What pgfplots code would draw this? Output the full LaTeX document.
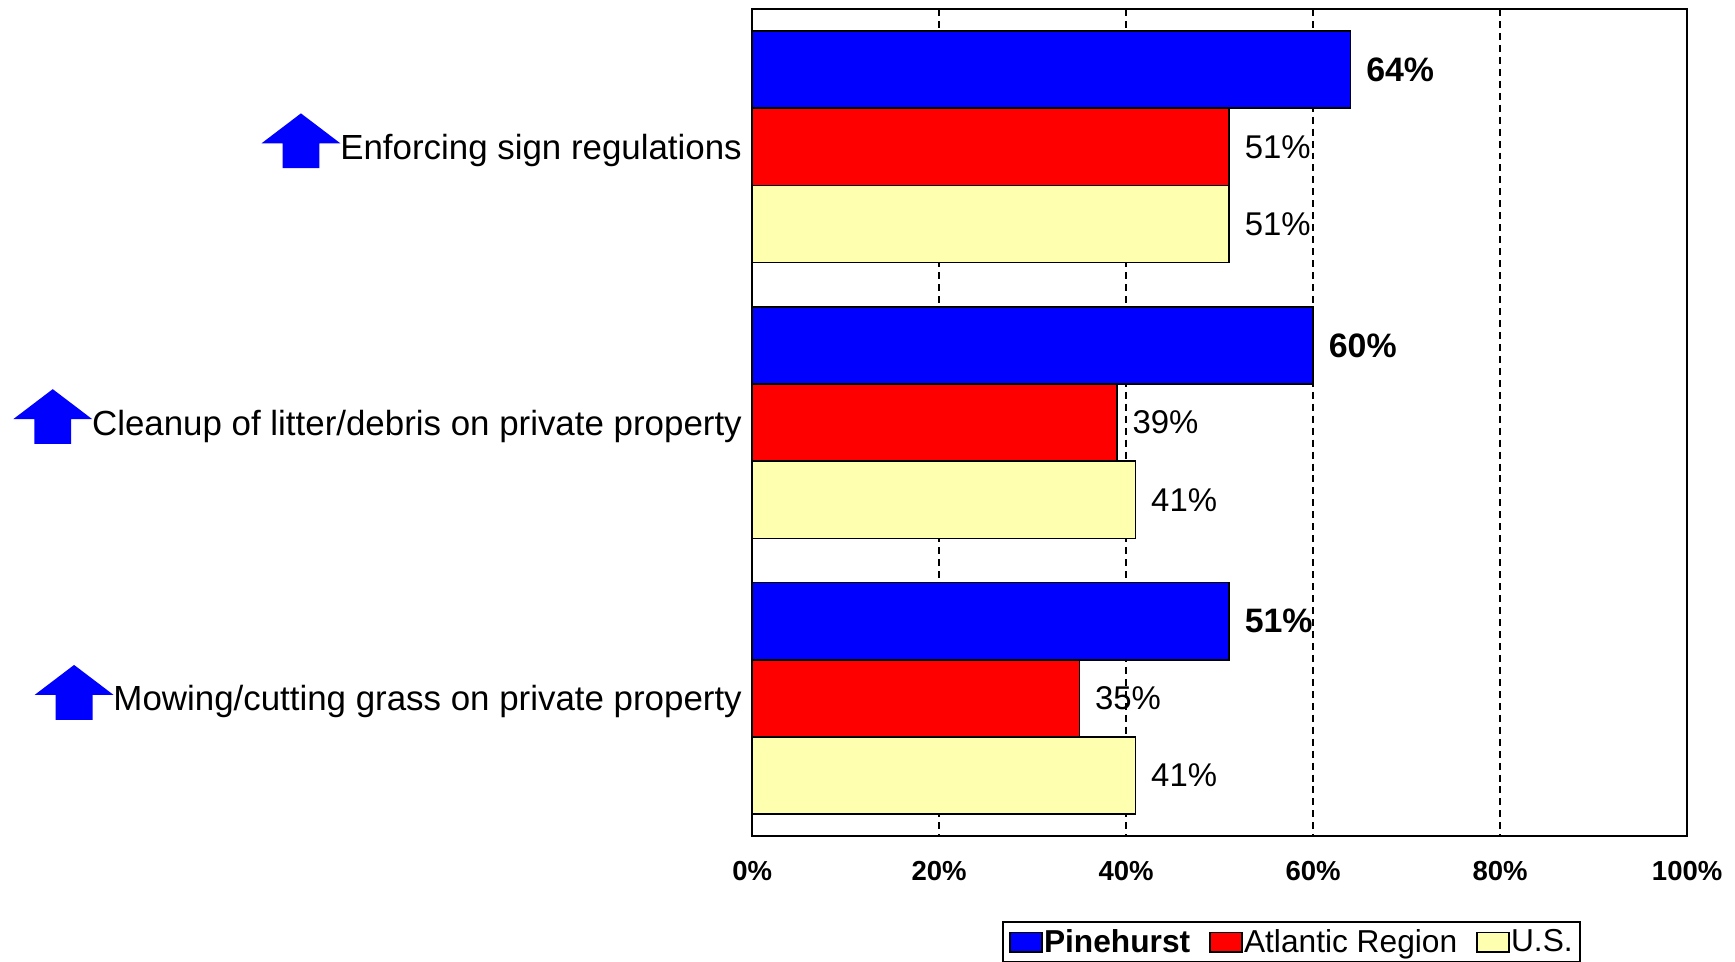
\documentclass[border=0pt]{standalone}
\usepackage{fontspec}
\setmainfont{Liberation Sans}
\usepackage{pgfplots}
\usepackage{pgfplotstable}
\pgfplotsset{compat=1.18}
\definecolor{pblue}{RGB}{0,0,255}
\definecolor{pred}{RGB}{255,0,0}
\definecolor{pyel}{RGB}{255,255,176}
% group 0 = Enforcing sign regulations (top), 1 = Cleanup, 2 = Mowing
\pgfplotstableread{
y val
-0.28 64
0.72 60
1.72 51
}\pine
\pgfplotstableread{
y val
0 51
1 39
2 35
}\atl
\pgfplotstableread{
y val
0.28 51
1.28 41
2.28 41
}\us
\newsavebox\uparrowbox
\begin{document}
\sbox\uparrowbox{\tikz[baseline=0pt]{\fill[pblue] (0pt,8pt) -- (19.75pt,23pt) -- (39.5pt,8pt) -- (29pt,8pt) -- (29pt,-4.5pt) -- (10.5pt,-4.5pt) -- (10.5pt,8pt) -- cycle;}}
\begin{tikzpicture}
\pgfplotsset{sqlegend/.style={legend image code/.code={\draw[##1,draw=black,line width=0.8pt] (0pt,-4.9pt) rectangle (16pt,4.9pt);}}}
\begin{axis}[
  at={(374.5pt,63pt)}, anchor=south west,
  width=469pt, height=415pt, scale only axis,
  xbar, bar width=0.28, bar shift=0pt,
  xmin=0, xmax=100, ymin=-0.5, ymax=2.5, y dir=reverse,
  axis line style={line width=1pt, black},
  xtick={0,20,40,60,80,100},
  xticklabels={0\%,20\%,40\%,60\%,80\%,100\%},
  xticklabel style={anchor=base, yshift=-22pt, font=\fontsize{13.8}{16}\selectfont\bfseries},
  ytick={0,1,2},
  yticklabels={
    {\usebox\uparrowbox Enforcing sign regulations},
    {\usebox\uparrowbox Cleanup of litter/debris on private property},
    {\usebox\uparrowbox Mowing/cutting grass on private property}},
  yticklabel style={anchor=base east, inner sep=0pt, xshift=-5pt, yshift=-6.2pt, font=\fontsize{17.5}{20}\selectfont},
  major tick length=0pt,
  xmajorgrids,
  grid style={black, line width=0.8pt, dash pattern=on 3.5pt off 2.5pt},
  /pgf/number format/assume math mode=true,
  point meta=x,
  nodes near coords={\pgfmathprintnumber{\pgfplotspointmeta}\%},
  nodes near coords style={anchor=west, inner sep=0pt, xshift=7.5pt, black, font=\fontsize{16.5}{19}\selectfont},
  legend columns=3,
  legend style={at={(0.2676,-0.1024)}, anchor=north west, draw=black, line width=1pt,
    font=\fontsize{15.9}{18}\selectfont, inner xsep=3pt, inner ysep=3pt,
    /tikz/every even column/.append style={column sep=9pt},
    nodes={inner sep=0.6pt}},
]
\addplot[fill=pblue, draw=black, line width=0.8pt, sqlegend,
  nodes near coords style={font=\fontsize{17}{20}\selectfont\bfseries}] table[x=val,y=y] {\pine};
\addlegendentry{\textbf{Pinehurst}}
\addplot[fill=pred, draw=black, line width=0.8pt, sqlegend] table[x=val,y=y] {\atl};
\addlegendentry{Atlantic Region}
\addplot[fill=pyel, draw=black, line width=0.8pt, sqlegend] table[x=val,y=y] {\us};
\addlegendentry{U.S.}
\end{axis}
\pgfresetboundingbox
\path[use as bounding box] (0,0) rectangle (867.5pt,482.5pt);
\end{tikzpicture}
\end{document}
